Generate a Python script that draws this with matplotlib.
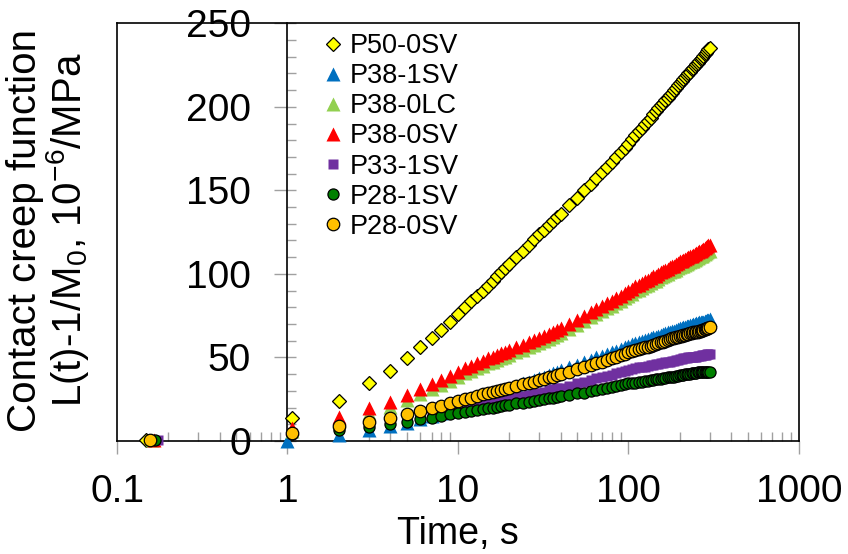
import matplotlib
matplotlib.use("Agg")
import matplotlib.pyplot as plt
from matplotlib import ticker

plt.rcParams['font.family'] = ['Liberation Sans', 'DejaVu Sans']
plt.rcParams['mathtext.fontset'] = 'custom'
plt.rcParams['mathtext.rm'] = 'Liberation Sans'
plt.rcParams['mathtext.it'] = 'Liberation Sans:italic'
plt.rcParams['mathtext.default'] = 'regular'

# ---------------- data ----------------
labels = ["P50-0SV", "P38-1SV", "P38-0LC", "P38-0SV", "P33-1SV", "P28-1SV", "P28-0SV"]

# common time base, s
time_s = [2, 3, 4, 5, 6, 7, 8, 9, 10, 11, 12, 13, 14, 15, 16, 17, 18, 19, 20,
          22, 24, 26, 28, 30, 32, 34, 36, 38, 40,
          45, 50, 55, 60, 65, 70, 75, 80, 85, 90, 95, 100,
          105, 110, 115, 120, 125, 130, 135, 140, 145, 150,
          155, 160, 165, 170, 175, 180, 185, 190, 195, 200,
          205, 210, 215, 220, 225, 230, 235, 240, 245, 250,
          255, 260, 265, 270, 275, 280, 285, 290, 295, 300]

# first points of each series (before the common time base)
early_t = [[0.148, 1.07], [1.0], [0.16, 1.07], [0.165, 1.07], [0.173, 1.07], [0.166, 1.07], [0.157, 1.07]]
early_y = [[0.5, 14], [0], [0.3, 6], [0.3, 8], [0.3, 4.5], [0.3, 4], [0.6, 5]]

p50_0sv = [24, 34.5, 42, 49.5, 56, 61.5, 66.5, 71.5, 76, 80, 83.5, 87, 90, 93, 96, 98.5, 101, 103.5, 106,
           110, 114, 117.5, 121, 124, 126.5, 129, 131.5, 134, 136,
           141, 145.5, 150, 154, 157.5, 161, 164, 167, 170, 173, 175.5, 178,
           180.5, 183, 185.5, 187.5, 189.5, 191.5, 193.5, 195.5, 197.5, 199,
           201, 202.5, 204, 205.5, 207, 208.5, 210, 211.5, 213, 214,
           215.5, 216.5, 218, 219, 220, 221, 222.5, 223.5, 224.5, 225.5,
           226.5, 227.5, 228.5, 229.5, 230.5, 231.5, 232.5, 233.5, 234.5, 235]

p38_1sv = [3.5, 6.5, 9, 11, 13, 15, 16.5, 18, 19.5, 21, 22.5, 24, 25, 26, 27, 28.5, 29.5, 30.5, 31.5,
           33, 34.5, 35.5, 36.5, 37.5, 38.5, 39.5, 40.5, 41.5, 42.5,
           44, 45.5, 47, 48.5, 50, 51, 52, 53, 54, 55, 56, 57,
           58, 58.5, 59.5, 60, 60.5, 61, 61.5, 62, 62.5, 63,
           63.5, 64, 64.5, 65, 65.5, 66, 66, 66.5, 67, 67.5,
           67.5, 68, 68.5, 69, 69, 69.5, 69.5, 70, 70, 70.5,
           70.5, 71, 71, 71.5, 71.5, 72, 72, 72.5, 72.5, 73]

p38_0lc = [12, 16.5, 20.5, 24.5, 28, 31, 33.5, 36, 38.5, 40.5, 42, 43.5, 45, 46.5, 47.5, 48.5, 49.5, 50.5, 51.5,
           53, 54.5, 56, 57.5, 58.5, 60, 61, 62.5, 63.5, 64.5,
           67, 69.5, 72, 74, 76, 78, 79.5, 81, 82.5, 84, 85.5, 87,
           88, 89.5, 90.5, 91.5, 92.5, 93.5, 94.5, 95.5, 96, 97,
           98, 98.5, 99.5, 100, 101, 101.5, 102, 102.5, 103.5, 104,
           104.5, 105, 105.5, 106, 106.5, 107, 107.5, 108, 108.5, 109,
           109.5, 110, 110.5, 111, 111.5, 112, 112.5, 113, 113.5, 114]

p38_0sv = [14.5, 19.5, 23.5, 27.5, 31, 34, 36.5, 39, 41.5, 43.5, 45, 46.5, 48, 49.5, 50.5, 51.5, 52.5, 53.5, 54.5,
           56, 57.5, 59, 60.5, 61.5, 63, 64, 65.5, 66.5, 67.5,
           70, 72.5, 75, 77, 79, 81, 82.5, 84, 85.5, 87, 88.5, 90,
           91, 92.5, 93.5, 94.5, 95.5, 96.5, 97.5, 98.5, 99, 100,
           101, 101.5, 102.5, 103, 104, 104.5, 105, 106, 106.5, 107.5,
           108, 108.5, 109, 109.5, 110, 110.5, 111, 111.5, 112, 112.5,
           113, 113.5, 114, 114.5, 115, 115.5, 116, 116.5, 117, 117.5]

p33_1sv = [7.5, 9.5, 11.5, 13, 14.5, 16, 17.5, 18.5, 19.5, 20.5, 21, 21.5, 22.5, 23, 23.5, 24, 24.5, 25, 25.5,
           26.5, 27, 27.5, 28.5, 29, 29.5, 30.5, 31, 31.5, 32,
           33, 34.5, 35.5, 36.5, 37.5, 38, 39, 39.5, 40.5, 41, 42, 42.5,
           43, 43.5, 44, 44.5, 44.5, 45, 45.5, 45.5, 46, 46,
           46.5, 46.5, 47, 47, 47.5, 48, 48, 48.5, 48.5, 49,
           49, 49.5, 49.5, 49.5, 50, 50, 50, 50.5, 50.5, 50.5,
           51, 51, 51, 51.5, 51.5, 51.5, 51.5, 52, 52, 52]

p28_1sv = [6.5, 8.5, 10, 11.5, 13, 14, 15, 16, 16.5, 17.5, 18, 18.5, 19, 19.5, 20, 20.5, 21, 21.5, 21.5,
           22.5, 23, 23.5, 24, 24.5, 25, 25.5, 26, 26.5, 27,
           27.5, 28.5, 29, 30, 30.5, 31, 32, 32.5, 33, 33.5, 34, 34.5,
           35, 35, 35.5, 35.5, 36, 36, 36.5, 36.5, 37, 37,
           37, 37.5, 37.5, 38, 38, 38.5, 38.5, 39, 39, 39.5,
           39.5, 39.5, 40, 40, 40, 40, 40.5, 40.5, 40.5, 40.5,
           41, 41, 41, 41, 41, 41, 41.5, 41.5, 41.5, 41.5]

p28_0sv = [9, 11.5, 14, 16, 18, 19.5, 21, 22.5, 24, 25, 26, 27, 28, 29, 29.5, 30, 30.5, 31, 32,
           33, 34, 35, 35.5, 36.5, 37, 38, 38.5, 39.5, 40,
           41.5, 43, 44, 45.5, 46.5, 47.5, 48.5, 49.5, 50.5, 51.5, 52, 53,
           54, 54.5, 55, 55.5, 56, 56.5, 57, 57.5, 58, 58.5,
           59, 59.5, 60, 60.5, 61, 61.5, 61.5, 62, 62.5, 63,
           63, 63.5, 63.5, 64, 64, 64.5, 64.5, 65, 65, 65.5,
           65.5, 66, 66, 66.5, 66.5, 67, 67, 67.5, 67.5, 68]

series = [p50_0sv, p38_1sv, p38_0lc, p38_0sv, p33_1sv, p28_1sv, p28_0sv]

# ---------------- styles ----------------
markers = ['D', '^', '^', '^', 's', 'o', 'o']
face = ['#FFFF00', '#0070C0', '#92D050', '#FF0000', '#7030A0', '#008000', '#FFC000']
edge = ['black', 'none', 'none', 'none', 'none', 'black', 'black']
msize = [7.5, 9.5, 9.5, 9.5, 7.5, 8, 9]

fig = plt.figure(figsize=(8.48, 5.54), dpi=100)
ax = fig.add_axes([0.138, 0.204, 0.804, 0.754])

for i, name in enumerate(labels):
    ax.plot(early_t[i] + time_s, early_y[i] + series[i], ls='none',
            marker=markers[i], ms=msize[i], mfc=face[i], mec=edge[i], mew=0.9,
            label=name, clip_on=False, zorder=3 + i)

ax.set_xscale('log')
ax.set_xlim(0.1, 1000)
ax.set_ylim(0, 250)

# y axis crosses at x = 1, box drawn around the plot area
ax.spines['left'].set_position(('data', 1))
ax.plot([0, 0], [0, 1], transform=ax.transAxes, color='black', lw=1.2, clip_on=False)
for s in ['top', 'right', 'bottom', 'left']:
    ax.spines[s].set_linewidth(1.2)
    ax.spines[s].set_color('black')

ax.yaxis.set_major_locator(ticker.MultipleLocator(50))
ax.yaxis.set_minor_locator(ticker.MultipleLocator(10))
ax.yaxis.remove_overlapping_locs = False
ax.xaxis.set_major_locator(ticker.LogLocator(base=10))
ax.xaxis.set_minor_locator(ticker.LogLocator(base=10, subs=range(2, 10)))
ax.xaxis.set_major_formatter(ticker.FuncFormatter(lambda v, p: f"{v:g}"))
ax.xaxis.set_minor_formatter(ticker.NullFormatter())

tick_grey = '#a0a0a0'
ax.tick_params(axis='y', which='major', direction='out', length=9.5, width=1, color=tick_grey,
               labelsize=28, pad=17)
ax.tick_params(axis='y', which='minor', direction='in', length=6.5, width=1, color=tick_grey)
ax.tick_params(axis='x', which='major', direction='out', length=9, width=1, color=tick_grey,
               labelsize=28, pad=15)
ax.tick_params(axis='x', which='minor', direction='in', length=6.5, width=1, color=tick_grey)
ax.tick_params(top=False, right=False)

ax.set_xlabel("Time, s", fontsize=27, labelpad=4)
ax.text(-0.1, 0.505, "Contact creep function\nL(t)-1/M$_0$, 10$^{-6}$/MPa", transform=ax.transAxes,
        rotation=90, ha='center', va='center', multialignment='center', fontsize=29, linespacing=1.0)

ax.legend(loc='upper left', bbox_to_anchor=(0.305, 0.976), frameon=False, fontsize=19.5,
          borderpad=0, labelspacing=0.15, handlelength=0.6, handletextpad=0.3, borderaxespad=0)

fig.savefig("out.png", dpi=100)
